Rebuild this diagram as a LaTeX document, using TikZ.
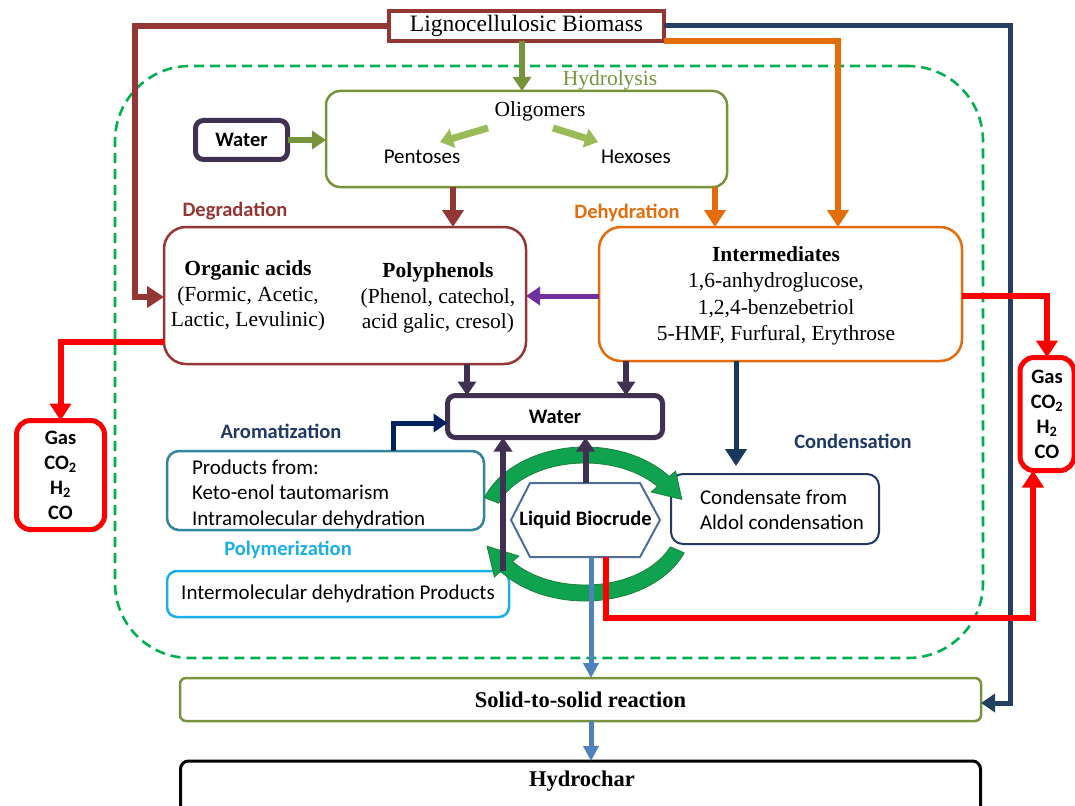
\documentclass[tikz,border=0pt]{standalone}
\usepackage{fontspec}
\setmainfont{Liberation Serif}
\setsansfont{Carlito}
\usetikzlibrary{arrows.meta,calc}
\definecolor{dred}{HTML}{943634}
\definecolor{orng}{HTML}{E46C0A}
\definecolor{navyl}{HTML}{243F60}
\definecolor{navyc}{HTML}{17375E}
\definecolor{navya}{HTML}{002060}
\definecolor{navyt}{HTML}{1F3864}
\definecolor{olive}{HTML}{77933C}
\definecolor{lgreen}{HTML}{9BBB59}
\definecolor{dpurple}{HTML}{403152}
\definecolor{purp}{HTML}{7030A0}
\definecolor{teal}{HTML}{31859C}
\definecolor{lblue}{HTML}{1AAFE6}
\definecolor{sblue}{HTML}{4F81BD}
\definecolor{dgreen}{HTML}{00B050}
\definecolor{cycf}{HTML}{0FA34F}
\definecolor{cycd}{HTML}{1B7F3E}
\definecolor{hexc}{HTML}{4F6D9A}
\begin{document}
\begin{tikzpicture}[x=1pt,y=-1pt,
  every node/.style={inner sep=0pt,outer sep=0pt},
  serifL/.style={font=\fontsize{23.5}{27}\selectfont},
  serifM/.style={font=\fontsize{21.5}{25.7}\selectfont},
  serifB/.style={font=\bfseries\fontsize{22.5}{26}\selectfont},
  sansR/.style={font=\sffamily\fontsize{21}{25.5}\selectfont},
  sansB/.style={font=\sffamily\bfseries\fontsize{20.5}{25}\selectfont},
  rbox/.style={draw,fill=white,rounded corners=#1},
  bigtip/.style={-{Triangle[length=17pt,width=21pt]}},
  midtip/.style={-{Triangle[length=14pt,width=18pt]}},
  conn/.style={line width=#1,line cap=butt},
  cycg/.style={fill=cycf,draw=cycd,line width=0.8pt},
]
\useasboundingbox (0,0) rectangle (1075,805);

% hydrolysis container
\node[draw=dgreen,line width=2.6pt,dash pattern=on 10pt off 6pt,rounded corners=75pt,
      minimum width=868pt,minimum height=592pt] (hyd) at (549,362) {};

% top
\node[rbox=0pt,draw=dred,line width=4pt,minimum width=275pt,minimum height=30pt,serifL] (bio) at (526.5,26) {Lignocellulosic Biomass};
\node[serifM,text=olive] (hydlab) at (610,80) {Hydrolysis};
\node[rbox=14pt,draw=olive,line width=2.5pt,minimum width=401pt,minimum height=96pt] (olig) at (526.5,139) {};
\node[serifM] (oligt) at (540,111) {Oligomers};
\node[sansR] (pent) at (422,157) {Pentoses};
\node[sansR] (hex) at (636,157) {Hexoses};
\draw[conn=7pt,lgreen,-{Triangle[length=13pt,width=19pt]}] ($(oligt)+(-52,17)$) -- ($(pent)+(18,-15)$);
\draw[conn=7pt,lgreen,-{Triangle[length=13pt,width=19pt]}] ($(oligt)+(13,17)$) -- ($(hex)+(-38,-15)$);

\node[rbox=8pt,draw=dpurple,line width=5pt,minimum width=92pt,minimum height=39pt,sansB] (w1) at (241.5,140) {Water};
\draw[conn=6pt,olive,midtip] (w1.east) -- (olig.west |- w1.east);
\draw[conn=6pt,olive,midtip] (bio.south -| 522,0) -- (olig.north -| 522,0);

% labels
\node[sansB,text=dred] (degl) at (235,211) {Degradation};
\node[sansB,text=orng] (dehl) at (627,213) {Dehydration};

% degradation & intermediates boxes
\node[rbox=22pt,draw=dred,line width=2.5pt,minimum width=362pt,minimum height=137pt] (deg) at (345,295.5) {};
\node[serifM,align=center] (orga) at (248,296) {\textbf{Organic acids}\\(Formic, Acetic,\\Lactic, Levulinic)};
\node[serifM,align=center] (polyp) at (438,298) {\textbf{Polyphenols}\\(Phenol, catechol,\\acid galic, cresol)};
\node[rbox=22pt,draw=orng,line width=2.5pt,minimum width=363pt,minimum height=134pt] (int) at (780.5,294) {};
\node[serifM,align=center,font=\fontsize{21.5}{26.3}\selectfont] (intt) at (776,296) {\textbf{Intermediates}\\1,6-anhydroglucose,\\ 1,2,4-benzebetriol\\5-HMF, Furfural, Erythrose};

\draw[conn=6pt,dred,bigtip] (olig.south -| 453,0) -- (deg.north -| 453,0);
\draw[conn=6pt,orng,bigtip] (olig.south -| 715,0) -- (int.north -| 715,0);
\draw[conn=6pt,orng,bigtip] (bio.south east) -| (int.north -| 838,0);
\draw[conn=6pt,dred,bigtip] (bio.west) -| (135,297) -- (deg.west |- 0,297);
\draw[conn=5pt,purp,midtip] (int.west |- 0,296) -- (deg.east |- 0,296);

% gas boxes
\node[rbox=14pt,draw=red,line width=5pt,minimum width=88pt,minimum height=109pt,sansB,align=center] (gasL) at (60.5,475) {Gas\\CO\textsubscript{2}\\H\textsubscript{2}\\CO};
\node[rbox=14pt,draw=red,line width=5pt,minimum width=54pt,minimum height=113pt,sansB,align=center] (gasR) at (1047,414) {Gas\\CO\textsubscript{2}\\H\textsubscript{2}\\CO};

% navy line to solid-to-solid
\node[rbox=6pt,draw=olive,line width=2.5pt,minimum width=801pt,minimum height=43pt,serifB] (sol) at (580.5,699.5) {Solid-to-solid reaction};
\node[rbox=8pt,draw=black,line width=3pt,minimum width=800pt,minimum height=60pt] (hc) at (580.5,791) {};
\node[serifB] (hct) at (582,781) {Hydrochar};
\draw[conn=5pt,navyl,midtip] (bio.east) -| (1010,703) -- (sol.east |- 0,703);

\draw[conn=6pt,red,bigtip] (deg.west |- 0,342) -| (gasL.north);
\draw[conn=6pt,red,bigtip] (int.east |- 0,296) -| (gasR.north);

% central water
\node[rbox=8pt,draw=dpurple,line width=5pt,minimum width=215pt,minimum height=42pt,sansB] (w2) at (555,416.5) {Water};
\draw[conn=6pt,dpurple,midtip] (deg.south -| 467,0) -- (w2.north -| 467,0);
\draw[conn=6pt,dpurple,midtip] (int.south -| 626,0) -- (w2.north -| 626,0);

% condensation
\coordinate (ct) at (736,466);
\draw[conn=5pt,navyc,bigtip] (int.south -| ct) -- (ct);
\node[sansB,text=navyt] (condl) at (853,441) {Condensation};
\node[rbox=12pt,draw=navyt,line width=2pt,minimum width=208pt,minimum height=70pt] (cond) at (775,509) {};
\node[sansR,align=left,anchor=west] (condt) at (700,510) {Condensate from\\Aldol condensation};

% aromatization / polymerization
\node[sansB,text=navyt] (arol) at (281,431) {Aromatization};
\node[rbox=12pt,draw=teal,line width=2.5pt,minimum width=317pt,minimum height=79pt] (aro) at (325.5,490.5) {};
\node[sansR,align=left,anchor=west] (arot) at (192,494) {Products from:\\Keto-enol tautomarism\\Intramolecular dehydration};
\draw[conn=5pt,navya,midtip] (aro.north -| 393,0) |- (w2.west |- 0,423);
\node[sansB,text=lblue] (polyl) at (288,550) {Polymerization};
\node[rbox=10pt,draw=lblue,line width=2.5pt,minimum width=342pt,minimum height=46pt,sansR] (poly) at (338,594) {Intermolecular dehydration Products};

% liquid biocrude
\node[minimum width=149pt,minimum height=74pt] (liq) at (585.5,520) {};
\filldraw[draw=hexc,fill=white,line width=2pt] (liq.west) -- ($(liq.north west)+(19,0)$) -- ($(liq.north east)+(-20,0)$) -- (liq.east) -- ($(liq.south east)+(-20,0)$) -- ($(liq.south west)+(19,0)$) -- cycle;
\node[sansB] (liqt) at (liq) {Liquid Biocrude};

% cycle arrows
\coordinate (cyc) at (585,524);
\filldraw[cycg] ($(cyc)+(200:107 and 77)$) arc[start angle=200,end angle=322,x radius=107,y radius=77]
  -- ($(cyc)+(322:115 and 86)$) -- ($(cyc)+(340:103 and 72)$) -- ($(cyc)+(322:84 and 52)$)
  -- ($(cyc)+(322:92 and 61)$) arc[start angle=322,end angle=200,x radius=92,y radius=61] -- cycle;
\filldraw[cycg] ($(cyc)+(22:107 and 77)$) arc[start angle=22,end angle=142,x radius=107,y radius=77]
  -- ($(cyc)+(142:115 and 86)$) -- ($(cyc)+(162:103 and 72)$) -- ($(cyc)+(142:84 and 52)$)
  -- ($(cyc)+(142:92 and 61)$) arc[start angle=142,end angle=22,x radius=92,y radius=61] -- cycle;

\draw[conn=6pt,dpurple,midtip] (poly.north -| 503,0) -- (w2.south -| 503,0);
\draw[conn=6pt,dpurple,midtip] (liq.north) -- (w2.south -| liq.north);

% outputs of biocrude
\coordinate (rc) at (1033,618);
\draw[conn=6pt,red,bigtip] (liq.south -| 606,0) |- (rc) -- (rc |- gasR.south);
\draw[conn=5pt,sblue,-{Triangle[length=15pt,width=15pt]}] (liq.south -| 591,0) -- (sol.north -| 591,0);
\draw[conn=5pt,sblue,-{Triangle[length=15pt,width=15pt]}] (sol.south -| 591,0) -- (hc.north -| 591,0);
\end{tikzpicture}
\end{document}
